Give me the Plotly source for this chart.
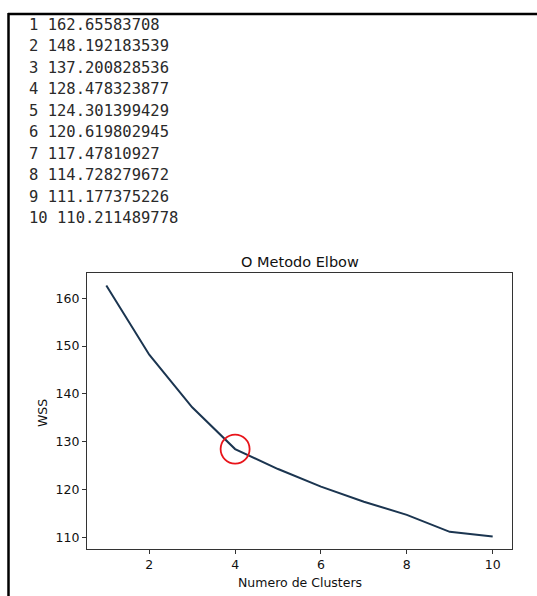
import plotly.graph_objects as go

clusters = [1, 2, 3, 4, 5, 6, 7, 8, 9, 10]
wss = [162.65583708, 148.192183539, 137.200828536, 128.478323877, 124.301399429,
       120.619802945, 117.47810927, 114.728279672, 111.177375226, 110.211489778]
x_ticks = [2, 4, 6, 8, 10]
y_ticks = [110, 120, 130, 140, 150, 160]
elbow_k = 4

W, H = 537, 596
L, R, T, B = 87, 512, 273, 549


def px(x):
    return (x - L) / (R - L)


def py(y):
    return (B - y) / (B - T)


fig = go.Figure()
fig.add_trace(go.Scatter(x=clusters, y=wss, mode="lines",
                         line=dict(color="#1b3550", width=2), hoverinfo="x+y"))

ann = []
# printed output lines
for i, (k, v) in enumerate(zip(clusters, wss)):
    ann.append(dict(text=f"{k} {v}", x=px(27), y=py(25 + 21.45 * i), xref="paper", yref="paper",
                    xanchor="left", yanchor="middle", showarrow=False,
                    font=dict(family="DejaVu Sans Mono", size=15.5, color="#2a2a2a")))
# axis titles
ann.append(dict(text="Numero de Clusters", x=0.5, y=py(582), xref="paper", yref="paper",
                xanchor="center", yanchor="middle", showarrow=False,
                font=dict(family="DejaVu Sans", size=12.5, color="#111")))
ann.append(dict(text="WSS", x=px(42), y=py(413), xref="paper", yref="paper", textangle=-90,
                xanchor="center", yanchor="middle", showarrow=False,
                font=dict(family="DejaVu Sans", size=12.5, color="#111")))
ann.append(dict(text="O Metodo Elbow", x=0.5, y=py(262), xref="paper", yref="paper",
                xanchor="center", yanchor="middle", showarrow=False,
                font=dict(family="DejaVu Sans", size=14.5, color="#111")))

shapes = [
    dict(type="line", xref="paper", yref="paper", x0=px(8), x1=px(540), y0=py(14), y1=py(14),
         line=dict(color="#000", width=2.5)),
    dict(type="line", xref="paper", yref="paper", x0=px(8.5), x1=px(8.5), y0=py(13), y1=py(600),
         line=dict(color="#000", width=2.5)),
    dict(type="circle", xref="x", yref="y", xsizemode="pixel", ysizemode="pixel",
         xanchor=elbow_k, yanchor=wss[clusters.index(elbow_k)], x0=-14.5, x1=14.5, y0=-14.5, y1=14.5,
         line=dict(color="#e8141a", width=1.8)),
]

axis_common = dict(showline=True, mirror=True, linecolor="#333", linewidth=1.3,
                   ticks="outside", ticklen=4, tickwidth=1, tickcolor="#333",
                   showgrid=False, zeroline=False,
                   tickfont=dict(family="DejaVu Sans", size=12.5, color="#111"))

fig.update_layout(
    width=W, height=H, margin=dict(l=L, r=W - R, t=T, b=H - B),
    paper_bgcolor="white", plot_bgcolor="white", showlegend=False,
    xaxis=dict(range=[0.55, 10.45], tickvals=x_ticks, **axis_common),
    yaxis=dict(range=[107.59, 165.28], tickvals=y_ticks, **axis_common),
    annotations=ann, shapes=shapes,
)

fig.write_html("out.html")
